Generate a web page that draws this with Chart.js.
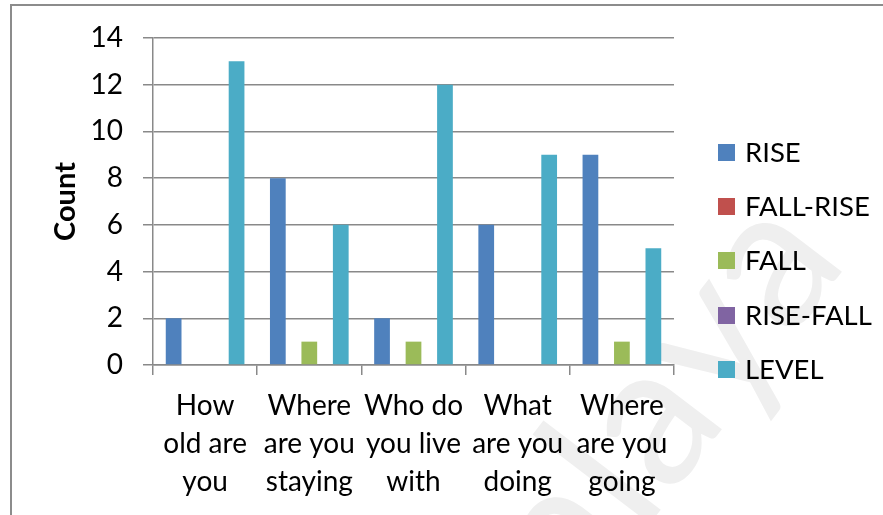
<!DOCTYPE html>
<html>
<head>
<meta charset="utf-8">
<script src="https://cdn.jsdelivr.net/npm/chart.js@4.4.1/dist/chart.umd.min.js"></script>
<style>
  html, body { margin: 0; padding: 0; background: #fff; }
  #wrap { position: relative; width: 883px; height: 515px; overflow: hidden; }
  #legend { position: absolute; left: 718px; top: 0; font-family: Lato, sans-serif; font-size: 27.5px; color: #000; }
  #legend .item { position: absolute; left: 0; white-space: nowrap; height: 30px; line-height: 30px; }
  #legend .box { position: absolute; left: 0; top: 6px; width: 17px; height: 17px; }
  #legend .txt { position: absolute; left: 27px; top: -1px; }
</style>
</head>
<body>
<div id="wrap">
  <canvas id="c" width="883" height="515"></canvas>
  <div id="legend"></div>
</div>
<script>
var categories = [
    ["How", "old are", "you"],
    ["Where", "are you", "staying"],
    ["Who do", "you live", "with"],
    ["What", "are you", "doing"],
    ["Where", "are you", "going"]
];
var seriesNames = ["RISE", "FALL-RISE", "FALL", "RISE-FALL", "LEVEL"];
var riseData = [2, 8, 2, 6, 9];
var fallRiseData = [0, 0, 0, 0, 0];
var fallData = [0, 1, 1, 0, 1];
var riseFallData = [0, 0, 0, 0, 0];
var levelData = [13, 6, 12, 9, 5];
var seriesColors = ["#4f81bd", "#c0504d", "#9bbb59", "#8064a2", "#4bacc6"];
var yTicks = [0, 2, 4, 6, 8, 10, 12, 14];

var gridColor = "#898989";
var font = "Lato, sans-serif";

// frame and faint watermark behind the chart
var framePlugin = {
    id: "frame",
    beforeDraw: function (chart) {
        var ctx = chart.ctx;
        ctx.save();
        ctx.fillStyle = "#fff";
        ctx.fillRect(0, 0, chart.width, chart.height);
        ctx.translate(470, 760);
        ctx.rotate(-0.92);
        ctx.fillStyle = "#efefef";
        ctx.font = "200px " + font;
        ctx.fillText("Malaya", 0, 0);
        ctx.restore();

        ctx.save();
        ctx.strokeStyle = "#8c8c8c";
        ctx.lineWidth = 2;
        ctx.beginPath();
        ctx.moveTo(11, 520);
        ctx.lineTo(11, 5);
        ctx.lineTo(890, 5);
        ctx.stroke();
        ctx.restore();
    }
};

// html legend built from the chart's own legend items
var htmlLegend = {
    id: "htmlLegend",
    afterUpdate: function (chart) {
        var el = document.getElementById("legend");
        el.innerHTML = "";
        var items = chart.options.plugins.legend.labels.generateLabels(chart);
        items.forEach(function (item, i) {
            var div = document.createElement("div");
            div.className = "item";
            div.style.top = (138 + i * 54.2) + "px";
            var box = document.createElement("span");
            box.className = "box";
            box.style.background = item.fillStyle;
            var txt = document.createElement("span");
            txt.className = "txt";
            txt.textContent = item.text;
            div.appendChild(box);
            div.appendChild(txt);
            el.appendChild(div);
        });
    }
};

var allData = [riseData, fallRiseData, fallData, riseFallData, levelData];

new Chart(document.getElementById("c"), {
    type: "bar",
    data: {
        labels: categories,
        datasets: seriesNames.map(function (name, i) {
            return {
                label: name,
                data: allData[i],
                backgroundColor: seriesColors[i],
                borderWidth: 0,
                categoryPercentage: 0.755,
                barPercentage: 1
            };
        })
    },
    options: {
        responsive: false,
        animation: false,
        layout: { padding: { left: 12, top: 38, right: 209, bottom: 0 } },
        plugins: {
            legend: { display: false },
            tooltip: { enabled: false }
        },
        scales: {
            x: {
                grid: {
                    display: true,
                    drawOnChartArea: false,
                    drawTicks: true,
                    tickLength: 10,
                    color: gridColor,
                    lineWidth: 1.5
                },
                border: { display: true, color: gridColor, width: 1.5 },
                ticks: {
                    color: "#000",
                    font: { family: font, size: 28, lineHeight: 1.36 },
                    padding: 12,
                    maxRotation: 0,
                    autoSkip: false
                },
                afterFit: function (scale) { scale.height = 150; }
            },
            y: {
                min: 0,
                max: 14,
                afterBuildTicks: function (scale) {
                    scale.ticks = yTicks.map(function (v) { return { value: v }; });
                },
                grid: {
                    color: gridColor,
                    lineWidth: 1.5,
                    tickLength: 10
                },
                border: { display: true, color: gridColor, width: 1.5 },
                ticks: {
                    color: "#000",
                    font: { family: font, size: 28 },
                    padding: 20
                },
                title: {
                    display: true,
                    text: "Count",
                    color: "#000",
                    font: { family: font, size: 29, weight: "bold" },
                    padding: { top: 36, bottom: 0 }
                },
                afterFit: function (scale) { scale.width = 141; }
            }
        }
    },
    plugins: [framePlugin, htmlLegend]
});
</script>
</body>
</html>
